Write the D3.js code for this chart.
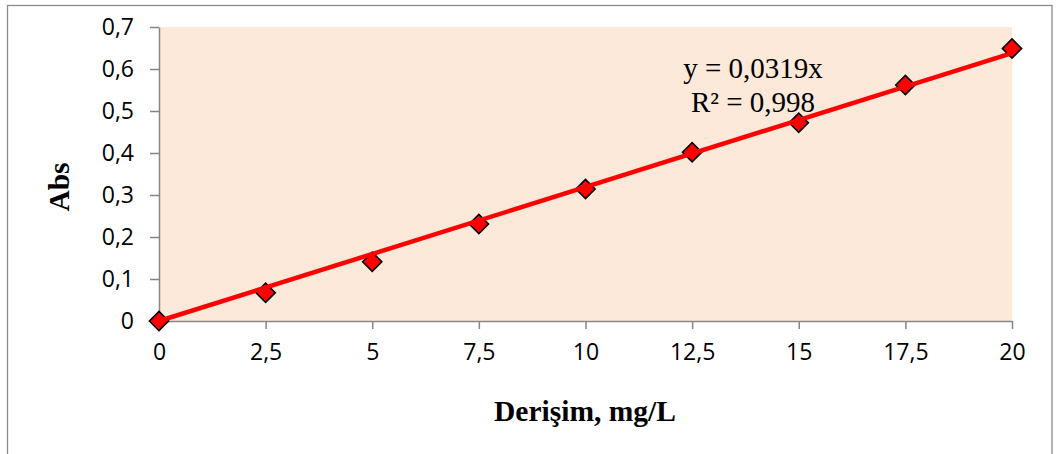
<!DOCTYPE html>
<html>
<head>
<meta charset="utf-8">
<script src="https://cdn.jsdelivr.net/npm/d3@7"></script>
<style>
  html, body { margin: 0; padding: 0; background: #ffffff; }
  svg { display: block; }
</style>
</head>
<body>
<svg id="chart" width="1057" height="454"></svg>
<script>
// Calibration data: concentration (mg/L) vs absorbance
const concentrations = [0, 2.5, 5, 7.5, 10, 12.5, 15, 17.5, 20];
const absorbances = [0.0, 0.067, 0.141, 0.231, 0.314, 0.402, 0.472, 0.562, 0.649];
const xTicks = [0, 2.5, 5, 7.5, 10, 12.5, 15, 17.5, 20];
const yTicks = [0, 0.1, 0.2, 0.3, 0.4, 0.5, 0.6, 0.7];
const slope = 0.0319;
const rSquared = 0.998;
const equationLines = ["y = 0,0319x", "R² = 0,998"];

const svg = d3.select("#chart");
const plot = { left: 159, top: 27, right: 1012, bottom: 321 };

const fmt = v => String(+v.toFixed(2)).replace(".", ",");

const x = d3.scaleLinear().domain([0, 20]).range([plot.left, plot.right]);
const y = d3.scaleLinear().domain([0, 0.7]).range([plot.bottom, plot.top]);

// outer chart border
svg.append("rect")
  .attr("x", 7.5).attr("y", 5.5)
  .attr("width", 1052 - 7.5).attr("height", 470)
  .attr("fill", "#ffffff").attr("stroke", "#8c8c8c").attr("stroke-width", 1.3);

// plot area fill
svg.append("rect")
  .attr("x", plot.left).attr("y", plot.top)
  .attr("width", plot.right - plot.left).attr("height", plot.bottom - plot.top)
  .attr("fill", "#FDE9D9");

const axisColor = "#868686";
const tickFont = "'Open Sans', 'Liberation Sans', sans-serif";
const tickSize = 23;

// y axis
const yAxis = svg.append("g")
  .attr("transform", `translate(${plot.left},0)`)
  .call(d3.axisLeft(y).tickValues(yTicks).tickFormat(fmt).tickSize(9).tickSizeOuter(0).tickPadding(16));
yAxis.select(".domain").attr("stroke", axisColor).attr("stroke-width", 1.5);
yAxis.selectAll(".tick line").attr("stroke", axisColor).attr("stroke-width", 1.5);
yAxis.selectAll(".tick text")
  .attr("fill", "#000").attr("font-family", tickFont).attr("font-size", tickSize);

// x axis
const xAxis = svg.append("g")
  .attr("transform", `translate(0,${plot.bottom})`)
  .call(d3.axisBottom(x).tickValues(xTicks).tickFormat(fmt).tickSize(8).tickSizeOuter(0).tickPadding(15));
xAxis.select(".domain").attr("stroke", axisColor).attr("stroke-width", 1.5);
xAxis.selectAll(".tick line").attr("stroke", axisColor).attr("stroke-width", 1.5);
xAxis.selectAll(".tick text")
  .attr("fill", "#000").attr("font-family", tickFont).attr("font-size", tickSize);

// data markers (diamonds)
const diamond = d3.symbol().type(d3.symbolSquare).size(185);
svg.append("g").selectAll("path")
  .data(concentrations.map((c, i) => ({ c, a: absorbances[i] })))
  .join("path")
  .attr("d", diamond)
  .attr("transform", d => `translate(${x(d.c)},${y(d.a)}) rotate(45)`)
  .attr("fill", "#FF0000")
  .attr("stroke", "#000")
  .attr("stroke-width", 1.6);

// linear trendline through the origin
const trend = [0, 20].map(c => [x(c), y(slope * c)]);
svg.append("path")
  .attr("d", d3.line()(trend))
  .attr("stroke", "#FF0000")
  .attr("stroke-width", 4.5)
  .attr("fill", "none");

// equation label
const eq = svg.append("text")
  .attr("font-family", "'Liberation Serif', 'Times New Roman', serif")
  .attr("font-size", 29)
  .attr("fill", "#000")
  .attr("text-anchor", "middle");
equationLines.forEach((t, i) => {
  eq.append("tspan").attr("x", 753).attr("y", 78 + i * 34).text(t);
});

// axis titles
svg.append("text")
  .attr("transform", "translate(69,187) rotate(-90)")
  .attr("text-anchor", "middle")
  .attr("font-family", "'Liberation Serif', 'Times New Roman', serif")
  .attr("font-weight", "bold")
  .attr("font-size", 29.5)
  .text("Abs");

svg.append("text")
  .attr("x", 585).attr("y", 421)
  .attr("text-anchor", "middle")
  .attr("font-family", "'Liberation Serif', 'Times New Roman', serif")
  .attr("font-weight", "bold")
  .attr("font-size", 29.5)
  .text("Derişim, mg/L");
</script>
</body>
</html>
